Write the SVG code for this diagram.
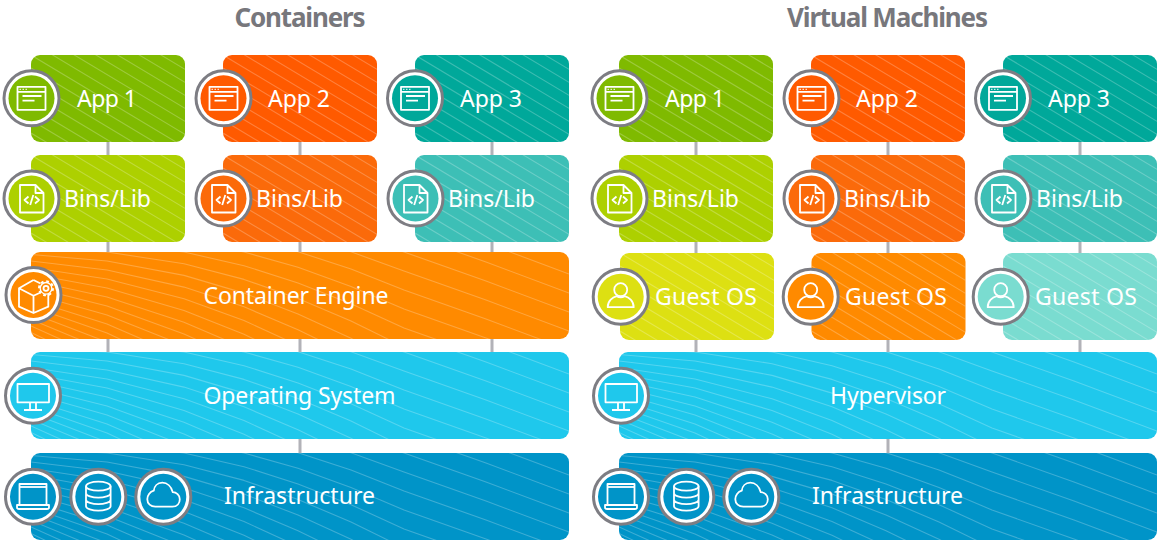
<svg xmlns="http://www.w3.org/2000/svg" width="1173" height="552" viewBox="0 0 1173 552">
<style>
text{font-family:"Noto Sans","Open Sans","Liberation Sans",sans-serif;fill:#fff;font-size:23px;text-anchor:middle}
.t{font-size:26px;font-weight:700;fill:#77777c}
.b{fill:currentColor}
.w{fill:none;stroke:#fff;stroke-opacity:.24;stroke-width:1.1;stroke-linejoin:round}
.ring{fill:#fff;stroke:#7d7d83;stroke-width:3}
.ic{fill:none;stroke:#fff;stroke-width:1.8;stroke-linejoin:round}
.conn{stroke:#b2b2b8;stroke-width:3;fill:none}
.g1{color:#7fba00}.o1{color:#ff5a00}.t1{color:#00a89a}
.g2{color:#add000}.o2{color:#fb6a0a}.t2{color:#3dbfb6}
.g3{color:#dde012}.o3{color:#ff8a00}.t3{color:#7adcd0}
.os{color:#1fc8ec}.inf{color:#0094c8}
</style>
<defs>
<clipPath id="wc"><rect width="538" height="87" rx="9"/></clipPath>
<clipPath id="sc"><rect width="154" height="87" rx="9"/></clipPath>
<path id="slant" class="w" d="M0-104L154-11.600M0-91L154 1.400M0-78L154 14.400M0-65L154 27.400M0-52L154 40.400M0-39L154 53.400M0-26L154 66.400M0-13L154 79.400M0 0L154 92.400M0 13L154 105.400M0 26L154 118.400M0 39L154 131.400M0 52L154 144.400M0 65L154 157.400M0 78L154 170.400"/>
<g id="sm"><rect width="154" height="87" rx="9" class="b"/><use href="#slant" clip-path="url(#sc)"/></g>
<path id="waves" class="w" d="M455-9L538 22M373-19L455 10L538 41M320-17.500L373 0L455 29L538 60M267-15.900L320-.2L373 19L455 48L538 79M213-13.700L267-.3L320 17.100L373 38L455 67L538 98M153-11.700L213 0L267 15.300L320 34.400L373 57L455 86L538 117M76-9L153 0L213 13.700L267 30.900L320 51.700L373 76L455 105M0-4L76 0L153 11.700L213 27.400L267 46.500L320 69L373 95M0 2.500L76 9L153 23.400L213 41.100L267 62.100L320 86.300L373 114M0 9L76 18L153 35.100L213 54.800L267 77.700L320 103.600M0 15.500L76 27L153 46.800L213 68.500L267 93.300M0 22L76 36L153 58.500L213 82.200L267 108.900M0 28.500L76 45L153 70.200L213 95.900M0 35L76 54L153 81.900L213 109.600M0 41.500L76 63L153 93.600M0 48L76 72L153 105.300M0 54.500L76 81L153 117M0 61L76 90M0 67.500L76 99M0 74L76 108M0 80.500L76 117"/>
<g id="lg"><rect width="538" height="87" rx="9" class="b"/><use href="#waves" clip-path="url(#wc)"/></g>
<g id="badge"><circle r="27.500" class="ring"/><circle r="23" class="b"/></g>
<g id="i-win" class="ic"><rect x="-14" y="-11.500" width="28" height="23"/><path d="M-14-6.500H14M-9-2.300H10M-9 2.300H3"/><path d="M-12-9h1.500M-9-9h1.500M-6-9h1.500" stroke-width="1"/></g>
<g id="i-file" class="ic"><path d="M-11.500-13.500H4L12-5.500V14H-11.500ZM4-13.500V-5.500H12"/><path d="M-3-2L-7 1.500L-3 5M3.500-2L7.500 1.500L3.500 5M1.800-3.500L-1.300 6.500"/></g>
<g id="i-user" class="ic"><circle cy="-7" r="6.500"/><path d="M-13 10.500C-13 4-8 .5-4-.5C-1.500 1 1.500 1 4-.5C8 .5 13 4 13 10.500Z"/></g>
<g id="i-box" class="ic"><path d="M0-15L-14.500-6.700V11.700L0 18L14.800 11.700V-3M0-15L7-11.500M-14.500-6.700L0 .7L7-2.500M0 .7V18"/><circle cx="12.500" cy="-6.700" r="7" stroke-dasharray="2.700 2.800" stroke-width="2"/><circle cx="12.500" cy="-6.700" r="5.800" class="b" stroke="#fff" stroke-width="1.300"/><circle cx="12.500" cy="-6.700" r="2.500"/></g>
<g id="i-mon" class="ic"><rect x="-15.500" y="-11.700" width="31.500" height="18.300"/><path d="M-3 6.600V14.300M3 6.600V14.300M-9 14.300H9"/></g>
<g id="i-lap" class="ic"><rect x="-13.500" y="-12.700" width="27" height="21"/><path d="M-13.500-9.700H13.500"/><path d="M-16 8.300H16V10.500Q16 12.300 14 12.300H-14Q-16 12.300-16 10.500Z"/></g>
<g id="i-db" class="ic"><ellipse cy="-10.500" rx="12.300" ry="4.500"/><path d="M-12.300-10.500V9.500C-12.300 12 -6 14-0 14S12.300 12 12.300 9.500V-10.500M-12.300-3.500C-12.300-1-6 1 0 1S12.300-1 12.300-3.500M-12.300 3C-12.300 5.500-6 7.500 0 7.500S12.300 5.500 12.300 3"/></g>
<path id="i-cloud" class="ic" d="M-8 10H9C14 10 16.500 6.500 16.500 2.500C16.500-1.500 13-4.500 9.500-4.500C8-10 4-14-1-14C-6-14-9-10.500-9.500-6C-13.500-5-16-1-16 2.500C-16 7-12.500 10-8 10Z"/>
</defs>
<rect width="1173" height="552" fill="#fff"/>
<g id="connectors" class="conn">
<path d="M108 142V155M300 142V155M492 142V155M108 242V252M300 242V252M492 242V252M108 339V352M300 339V352M492 339V352M300 439V453"/>
<path d="M696 142V155M888 142V155M1080 142V155M696 242V253M888 242V253M1080 242V253M696 340V352M888 340V352M1080 340V352M888 439V453"/>
</g>
<text id="title-containers" class="t" x="300" y="27" textLength="131">Containers</text>
<text id="title-vms" class="t" x="887.500" y="27" textLength="201">Virtual Machines</text>

<g id="c-app1" class="g1"><use href="#sm" x="31" y="55"/><use href="#badge" x="31.500" y="98.300"/><use href="#i-win" x="31.500" y="98.300"/><text x="107" y="107" textLength="60">App 1</text></g>
<g id="c-app2" class="o1"><use href="#sm" x="223" y="55"/><use href="#badge" x="223.500" y="98.300"/><use href="#i-win" x="223.500" y="98.300"/><text x="299" y="107" textLength="62">App 2</text></g>
<g id="c-app3" class="t1"><use href="#sm" x="415" y="55"/><use href="#badge" x="415" y="98.300"/><use href="#i-win" x="415" y="98.300"/><text x="491" y="107" textLength="62">App 3</text></g>
<g id="c-bins1" class="g2"><use href="#sm" x="31" y="155"/><use href="#badge" x="31.500" y="198.500"/><use href="#i-file" x="31.500" y="198.500"/><text x="107.500" y="207" textLength="87">Bins/Lib</text></g>
<g id="c-bins2" class="o2"><use href="#sm" x="223" y="155"/><use href="#badge" x="223.500" y="198.500"/><use href="#i-file" x="223.500" y="198.500"/><text x="299.500" y="207" textLength="87">Bins/Lib</text></g>
<g id="c-bins3" class="t2"><use href="#sm" x="415" y="155"/><use href="#badge" x="415.500" y="198.500"/><use href="#i-file" x="415.500" y="198.500"/><text x="491.500" y="207" textLength="87">Bins/Lib</text></g>
<g id="c-engine" class="o3"><use href="#lg" x="31" y="252"/><use href="#badge" x="33.500" y="295"/><use href="#i-box" x="33.500" y="295"/><text x="296" y="304" textLength="185">Container Engine</text></g>
<g id="c-os" class="os"><use href="#lg" x="31" y="352"/><use href="#badge" x="33" y="395.700"/><use href="#i-mon" x="33" y="395.700"/><text x="299.500" y="404" textLength="192">Operating System</text></g>
<g id="c-infra" class="inf"><use href="#lg" x="31" y="453"/><use href="#badge" x="33" y="496.700"/><use href="#i-lap" x="33" y="496.700"/><use href="#badge" x="98.300" y="496.700"/><use href="#i-db" x="98.300" y="496.700"/><use href="#badge" x="163.300" y="496.700"/><use href="#i-cloud" x="163.300" y="496.700"/><text x="299.500" y="504" textLength="151">Infrastructure</text></g>

<g id="v-app1" class="g1"><use href="#sm" x="619" y="55"/><use href="#badge" x="619.500" y="98.300"/><use href="#i-win" x="619.500" y="98.300"/><text x="695" y="107" textLength="60">App 1</text></g>
<g id="v-app2" class="o1"><use href="#sm" x="811" y="55"/><use href="#badge" x="811.500" y="98.300"/><use href="#i-win" x="811.500" y="98.300"/><text x="887" y="107" textLength="62">App 2</text></g>
<g id="v-app3" class="t1"><use href="#sm" x="1003" y="55"/><use href="#badge" x="1003" y="98.300"/><use href="#i-win" x="1003" y="98.300"/><text x="1079" y="107" textLength="62">App 3</text></g>
<g id="v-bins1" class="g2"><use href="#sm" x="619" y="155"/><use href="#badge" x="619.500" y="198.500"/><use href="#i-file" x="619.500" y="198.500"/><text x="695.500" y="207" textLength="87">Bins/Lib</text></g>
<g id="v-bins2" class="o2"><use href="#sm" x="811" y="155"/><use href="#badge" x="811.500" y="198.500"/><use href="#i-file" x="811.500" y="198.500"/><text x="887.500" y="207" textLength="87">Bins/Lib</text></g>
<g id="v-bins3" class="t2"><use href="#sm" x="1003" y="155"/><use href="#badge" x="1003.500" y="198.500"/><use href="#i-file" x="1003.500" y="198.500"/><text x="1079.500" y="207" textLength="87">Bins/Lib</text></g>
<g id="v-guest1" class="g3"><use href="#sm" x="620" y="253"/><use href="#badge" x="620.700" y="296.700"/><use href="#i-user" x="620.700" y="296.700"/><text x="706" y="305" textLength="102">Guest OS</text></g>
<g id="v-guest2" class="o3"><use href="#sm" x="811.500" y="253"/><use href="#badge" x="810.700" y="296.700"/><use href="#i-user" x="810.700" y="296.700"/><text x="896" y="305" textLength="102">Guest OS</text></g>
<g id="v-guest3" class="t3"><use href="#sm" x="1003" y="253"/><use href="#badge" x="1000.700" y="296.700"/><use href="#i-user" x="1000.700" y="296.700"/><text x="1086" y="305" textLength="102">Guest OS</text></g>
<g id="v-hyper" class="os"><use href="#lg" x="619" y="352"/><use href="#badge" x="621" y="395.700"/><use href="#i-mon" x="621" y="395.700"/><text x="888" y="404" textLength="116">Hypervisor</text></g>
<g id="v-infra" class="inf"><use href="#lg" x="619" y="453"/><use href="#badge" x="621" y="496.700"/><use href="#i-lap" x="621" y="496.700"/><use href="#badge" x="686.300" y="496.700"/><use href="#i-db" x="686.300" y="496.700"/><use href="#badge" x="751.300" y="496.700"/><use href="#i-cloud" x="751.300" y="496.700"/><text x="887.500" y="504" textLength="151">Infrastructure</text></g>
</svg>
